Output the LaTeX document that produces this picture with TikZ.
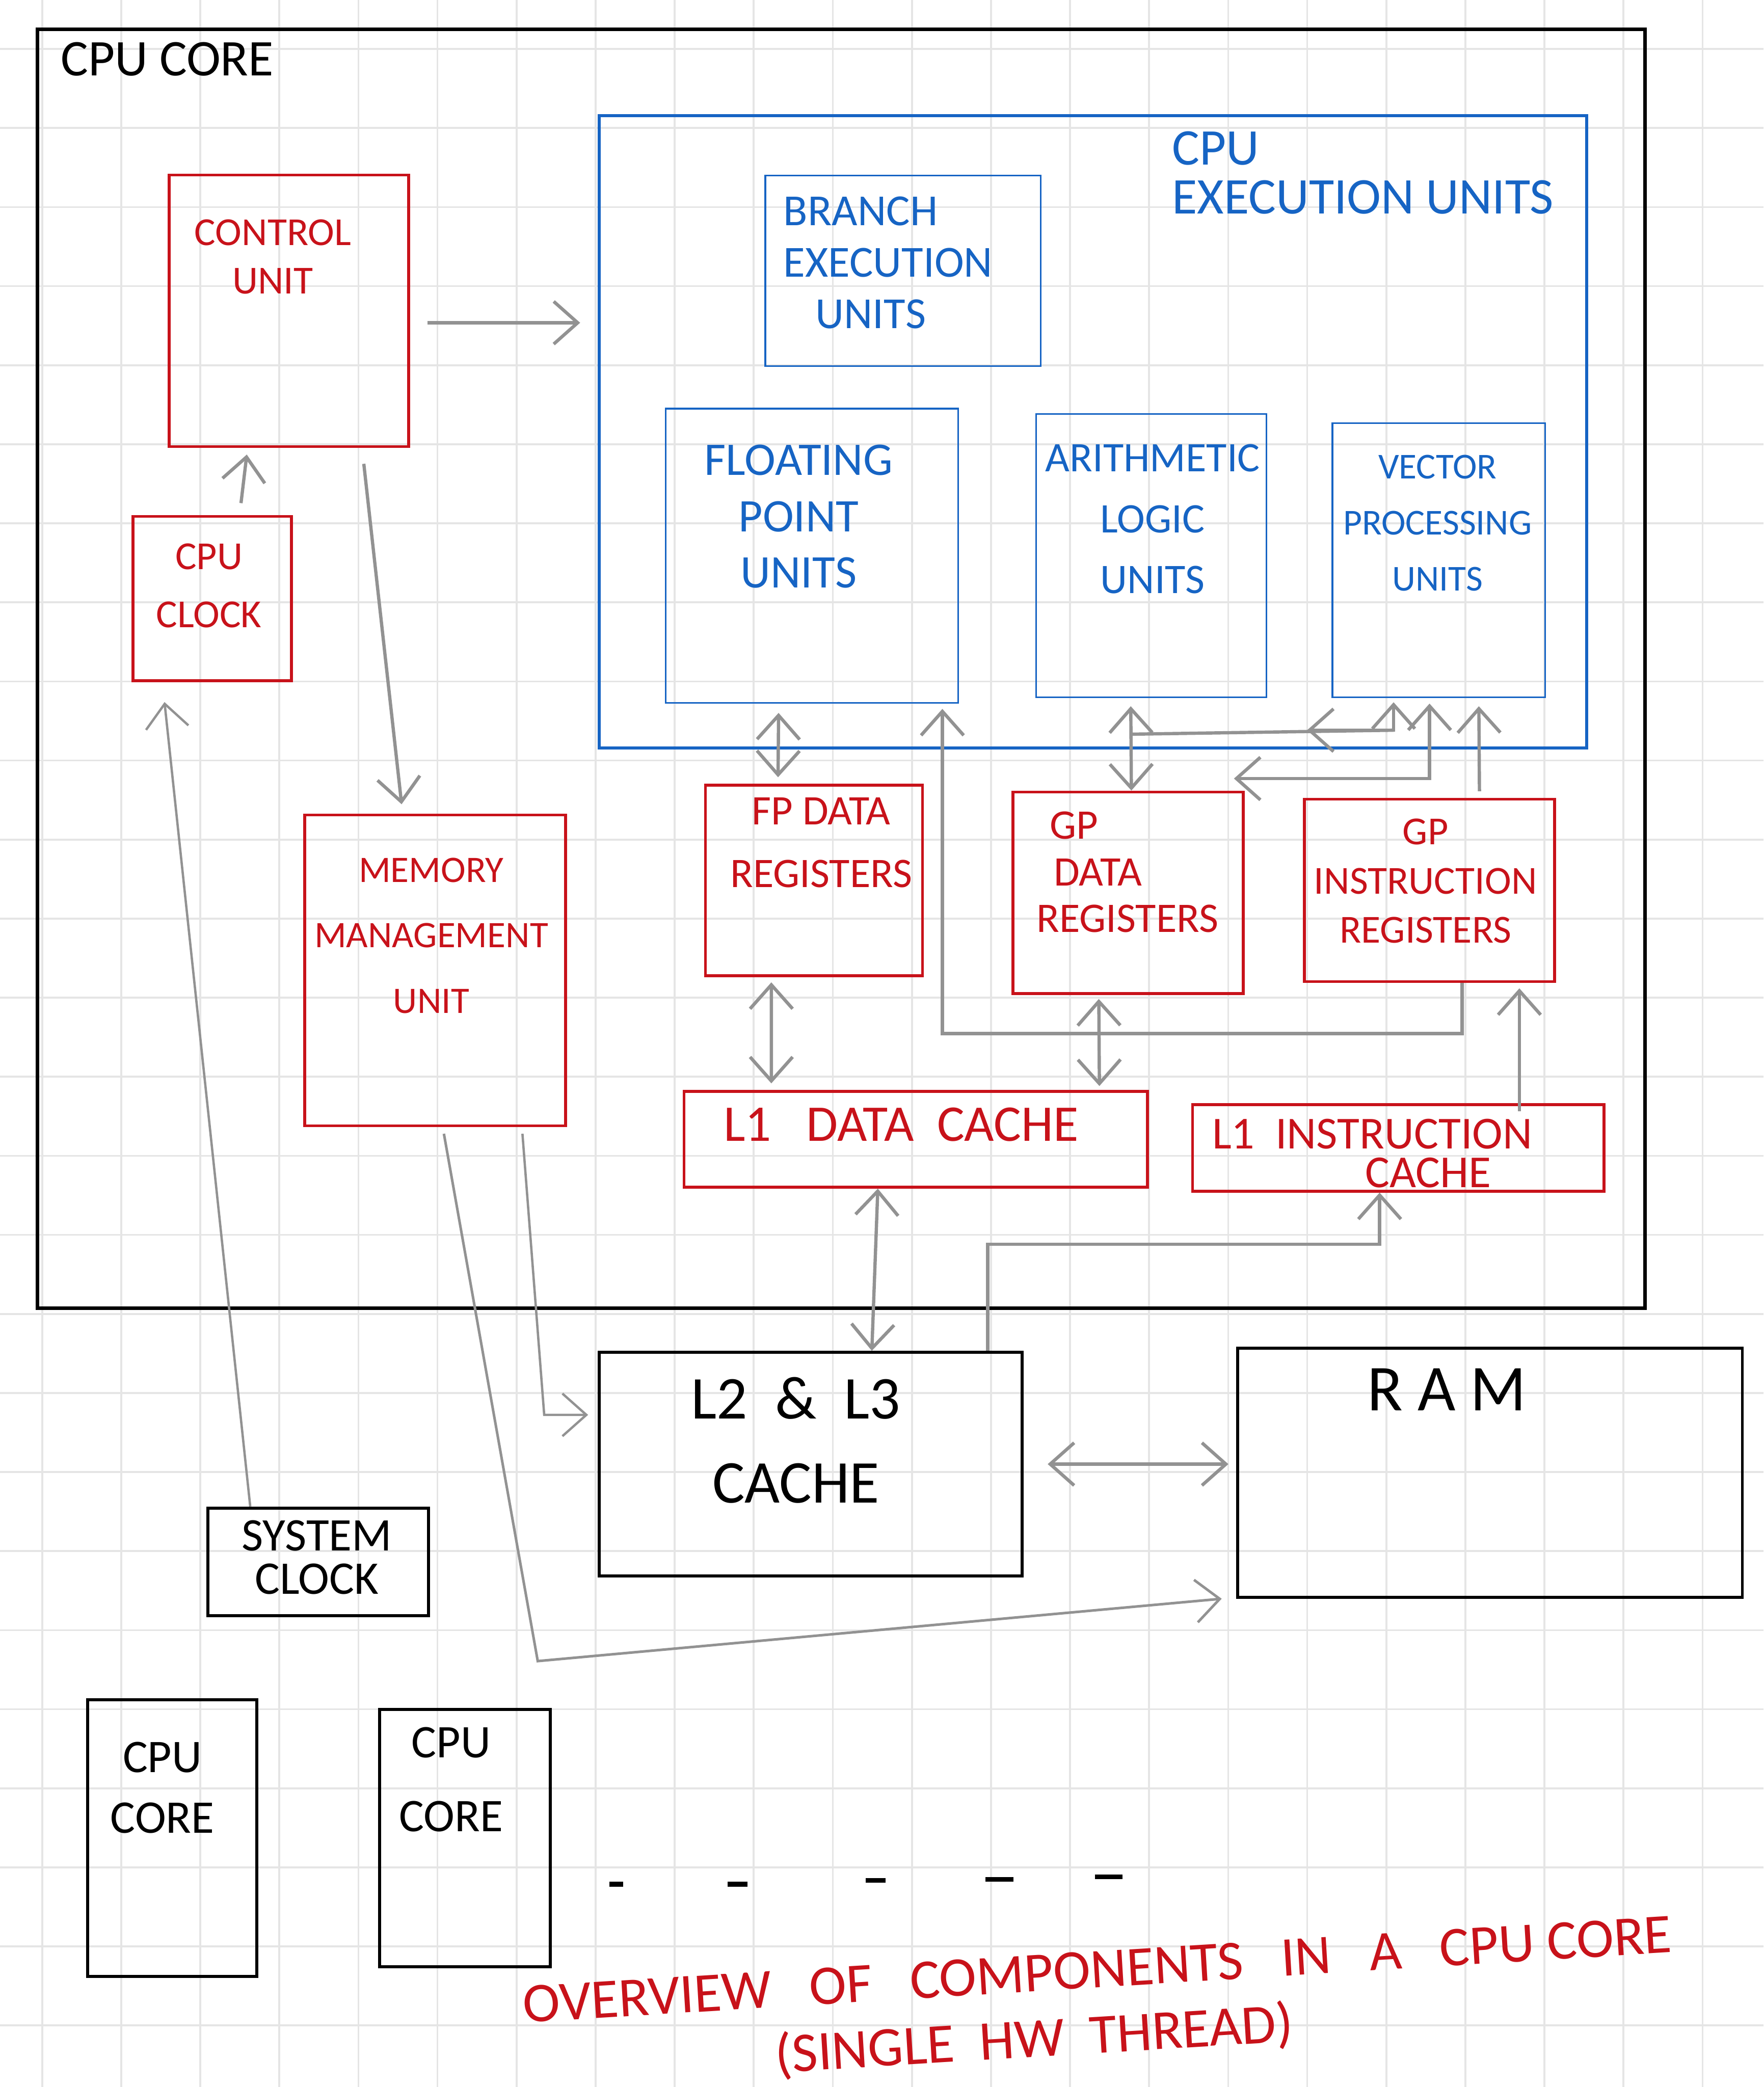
\documentclass[tikz,border=0pt]{standalone}
\usepackage{fontspec}
\setmainfont{Carlito}
\usetikzlibrary{arrows.meta,positioning}

\definecolor{inkred}{RGB}{200,18,26}
\definecolor{inkblue}{RGB}{22,100,196}
\definecolor{inkgray}{RGB}{146,146,146}
\definecolor{paperline}{RGB}{229,229,229}

\tikzset{hand/.tip={Straight Barb[length=1.8mm,width=3.2mm]}}

\begin{document}
\begin{tikzpicture}[
    red unit/.style={draw=inkred,line width=0.6pt,inner sep=0pt},
    blue unit/.style={draw=inkblue,line width=0.35pt,inner sep=0pt},
    black unit/.style={draw=black,line width=0.65pt,inner sep=0pt},
    red text/.style={text=inkred,align=center,inner sep=0pt},
    blue text/.style={text=inkblue,align=center,inner sep=0pt},
    black text/.style={text=black,align=center,inner sep=0pt},
    wire/.style={draw=inkgray,line width=0.7pt},
    one way/.style={wire,-hand},
    two way/.style={wire,hand-hand}]

  % paper
  \useasboundingbox[fill=white] (0,0) rectangle (13.25,-15.68);
  \foreach \i in {0,...,21}
    \draw[paperline,line width=0.4pt] ({0.317+0.594*\i},0) -- ++(0,-15.68);
  \foreach \j in {0,...,25}
    \draw[paperline,line width=0.4pt] (0,{-0.368-0.594*\j}) -- ++(13.25,0);

  % the core and its units
  \node[black unit,line width=0.75pt,minimum width=12.08cm,minimum height=9.61cm] (core) at (6.32,-5.025) {};
  \node[black text,anchor=north west,font=\fontsize{11}{13}\selectfont] (core-t) at (0.45,-0.31) {CPU CORE};

  \node[red unit,minimum width=1.80cm,minimum height=2.04cm] (cu) at (2.17,-2.335) {};
  \node[red text,font=\fontsize{8.5}{10.3}\selectfont] (cu-t) at (2.05,-1.93) {CONTROL\\UNIT};

  \node[red unit,minimum width=1.19cm,minimum height=1.235cm] (cpuclk) at (1.595,-4.4975) {};
  \node[red text,font=\fontsize{8.5}{12.5}\selectfont] (cpuclk-t) at (1.57,-4.40) {CPU\\CLOCK};

  \node[blue unit,line width=0.65pt,minimum width=7.42cm,minimum height=4.75cm] (exec) at (8.21,-3.245) {};
  \node[blue text,align=left,anchor=north west,font=\fontsize{11}{10.5}\selectfont] (exec-t) at (8.80,-0.98) {CPU\\EXECUTION UNITS};

  \node[blue unit,minimum width=2.07cm,minimum height=1.43cm] (beu) at (6.785,-2.035) {};
  \node[blue text,align=left,anchor=north west,font=\fontsize{9.5}{11}\selectfont] (beu-t) at (5.88,-1.47) {BRANCH\\EXECUTION\\\hspace{0.24cm}UNITS};

  \node[blue unit,minimum width=2.20cm,minimum height=2.21cm] (fpu) at (6.10,-4.175) {};
  \node[blue text,font=\fontsize{10}{12}\selectfont] (fpu-t) at (6.00,-3.88) {FLOATING\\POINT\\UNITS};

  \node[blue unit,minimum width=1.73cm,minimum height=2.13cm] (alu) at (8.65,-4.175) {};
  \node[blue text,font=\fontsize{9}{13}\selectfont] (alu-t) at (8.66,-3.90) {ARITHMETIC\\LOGIC\\UNITS};

  \node[blue unit,minimum width=1.60cm,minimum height=2.06cm] (vpu) at (10.81,-4.21) {};
  \node[blue text,font=\fontsize{7.8}{12}\selectfont] (vpu-t) at (10.80,-3.93) {VECTOR\\PROCESSING\\UNITS};

  \node[red unit,minimum width=1.63cm,minimum height=1.43cm] (fpreg) at (6.115,-6.615) {};
  \node[red text,font=\fontsize{9}{13.4}\selectfont] (fpreg-t) at (6.17,-6.33) {FP DATA\\REGISTERS};

  \node[red unit,minimum width=1.73cm,minimum height=1.515cm] (gpdreg) at (8.475,-6.7075) {};
  \node[red text,align=left,anchor=north west,font=\fontsize{9}{10}\selectfont] (gpdreg-t) at (7.78,-6.09) {\hspace{1mm}GP\\\hspace{1.3mm}DATA\\REGISTERS};

  \node[red unit,minimum width=1.88cm,minimum height=1.37cm] (gpireg) at (10.74,-6.69) {};
  \node[red text,font=\fontsize{8.5}{10.5}\selectfont] (gpireg-t) at (10.71,-6.62) {GP\\INSTRUCTION\\REGISTERS};

  \node[red unit,minimum width=3.48cm,minimum height=0.72cm] (l1d) at (6.88,-8.56) {};
  \node[red text,font=\fontsize{11}{13}\selectfont] (l1d-t) at (6.77,-8.45) {L1~~~DATA~~CACHE};

  \node[red unit,minimum width=3.09cm,minimum height=0.65cm] (l1i) at (10.505,-8.625) {};
  \node[red text,align=left,anchor=north west,font=\fontsize{9.8}{8.3}\selectfont] (l1i-t) at (9.10,-8.40) {L1~~INSTRUCTION\\\hspace{1.15cm}CACHE};

  \node[red unit,minimum width=1.96cm,minimum height=2.335cm] (mmu) at (3.27,-7.29) {};
  \node[red text,font=\fontsize{8}{14}\selectfont] (mmu-t) at (3.24,-7.03) {MEMORY\\MANAGEMENT\\UNIT};

  % outside the core
  \node[black unit,minimum width=3.18cm,minimum height=1.68cm] (l2) at (6.09,-11.00) {};
  \node[black text,font=\fontsize{13}{18}\selectfont] (l2-t) at (5.98,-10.82) {L2~~\&~~L3\\CACHE};

  \node[black unit,minimum width=3.79cm,minimum height=1.87cm] (ram) at (11.195,-11.065) {};
  \node[black text,font=\fontsize{14}{16}\selectfont] (ram-t) at (10.87,-10.44) {R~A~M};

  \node[black unit,minimum width=1.66cm,minimum height=0.81cm] (sysclk) at (2.39,-11.735) {};
  \node[black text,font=\fontsize{10}{9.2}\selectfont] (sysclk-t) at (2.38,-11.70) {SYSTEM\\CLOCK};

  \node[black unit,minimum width=1.27cm,minimum height=2.08cm] (core2) at (1.295,-13.81) {};
  \node[black text,font=\fontsize{10}{13}\selectfont] (core2-t) at (1.22,-13.43) {CPU\\CORE};
  \node[black unit,minimum width=1.28cm,minimum height=1.93cm,right=0.90cm of core2] (core3) {};
  \node[black text,font=\fontsize{10}{15.8}\selectfont] (core3-t) at (3.39,-13.37) {CPU\\CORE};

  \foreach \x/\y/\w in {4.63/14.156/0.10, 5.54/14.156/0.15, 6.58/14.128/0.15, 7.51/14.12/0.21, 8.33/14.10/0.21}
    \draw[line width=1pt] ({\x-\w/2},-\y) -- ++(\w,0);

  \node[red text,rotate=3.5,font=\fontsize{12}{14}\selectfont] (title) at (8.26,-15.07) {OVERVIEW~~~OF~~~COMPONENTS~~~IN~~~A~~~CPU CORE\\(SINGLE~~HW~~THREAD)\hspace{1.01cm}\mbox{}};

  % connectors
  \coordinate (cuout) at ([yshift=-0.9mm]cu.east);
  \draw[one way,shorten <=1.3mm,shorten >=1.3mm] (cuout) -- (cuout -| exec.west);
  \draw[one way,shorten <=1.2mm,shorten >=0.7mm] ([xshift=5.5mm]cu.south) -- ([xshift=-2.45mm]mmu.north);
  \draw[one way,shorten <=0.9mm,shorten >=0.5mm] ([xshift=2.05mm]cpuclk.north) -- ([xshift=-3.1mm]cu.south);
  \draw[one way,line width=0.5pt,shorten >=1.5mm] ([xshift=-5.1mm]sysclk.north) -- ([xshift=-3.75mm]cpuclk.south);

  \draw[two way,shorten <=0.7mm,shorten >=0.5mm] ([xshift=-2.5mm]fpu.south) -- ([xshift=-2.7mm]fpreg.north);
  \draw[two way,shorten <=0.4mm,shorten >=0.5mm] ([xshift=-3.2mm]fpreg.south) -- ([xshift=-10.85mm]l1d.north);
  \draw[two way] ([xshift=-2.85mm]l1d.south) -- ([xshift=4.6mm]l2.north);
  \draw[two way,shorten <=0.3mm,shorten >=0.3mm] ([xshift=-2.2mm]gpdreg.south) -- ([xshift=13.8mm]l1d.north);
  \draw[two way,shorten <=0.6mm] ([xshift=-1.55mm]alu.south) -- ([xshift=0.25mm]gpdreg.north);

  \coordinate (alutap) at ([xshift=-1.55mm,yshift=-2.7mm]alu.south);
  \coordinate (vpuknee) at ([xshift=-3.4mm,yshift=-2.4mm]vpu.south);
  \draw[wire] (alutap) -- (vpuknee);
  \draw[two way,shorten >=0.3mm] ([xshift=-6.5mm]vpuknee) -- (vpuknee) -- ([xshift=-3.4mm]vpu.south);
  \draw[two way,shorten <=0.4mm] ([xshift=-0.7mm]vpu.south) |- ([xshift=-0.8mm,yshift=0.9mm]gpdreg.north east);
  \draw[one way,shorten >=0.6mm] ([xshift=3.75mm,yshift=0.5mm]gpireg.north) -- ([xshift=3mm]vpu.south);
  \draw[one way,shorten >=0.4mm] ([xshift=2.45mm]gpireg.south) -- ++(0,-0.38) -| ([xshift=9.8mm]fpu.south);
  \draw[one way,shorten >=0.4mm] ([xshift=9.1mm,yshift=-0.6mm]l1i.north) -- ([xshift=6.75mm]gpireg.south);
  \draw[one way] ([xshift=13.3mm]l2.north) -- ++(0,0.8) -| ([xshift=-1.4mm]l1i.south);

  \draw[two way,shorten <=1.8mm,shorten >=0.6mm] (l2.east) -- (l2.east -| ram.west);
  \draw[one way,line width=0.5pt] ([xshift=6.55mm,yshift=-0.5mm]mmu.south) -- ([xshift=-4mm,yshift=3.7mm]l2.west) -- ([xshift=-0.7mm,yshift=3.7mm]l2.west);
  \coordinate (ramturn) at (4.04,-12.48);
  \draw[one way,line width=0.55pt] ([xshift=0.65mm,yshift=-0.5mm]mmu.south) -- (ramturn) -- ([xshift=-1.1mm]ram.south west);

\end{tikzpicture}
\end{document}
